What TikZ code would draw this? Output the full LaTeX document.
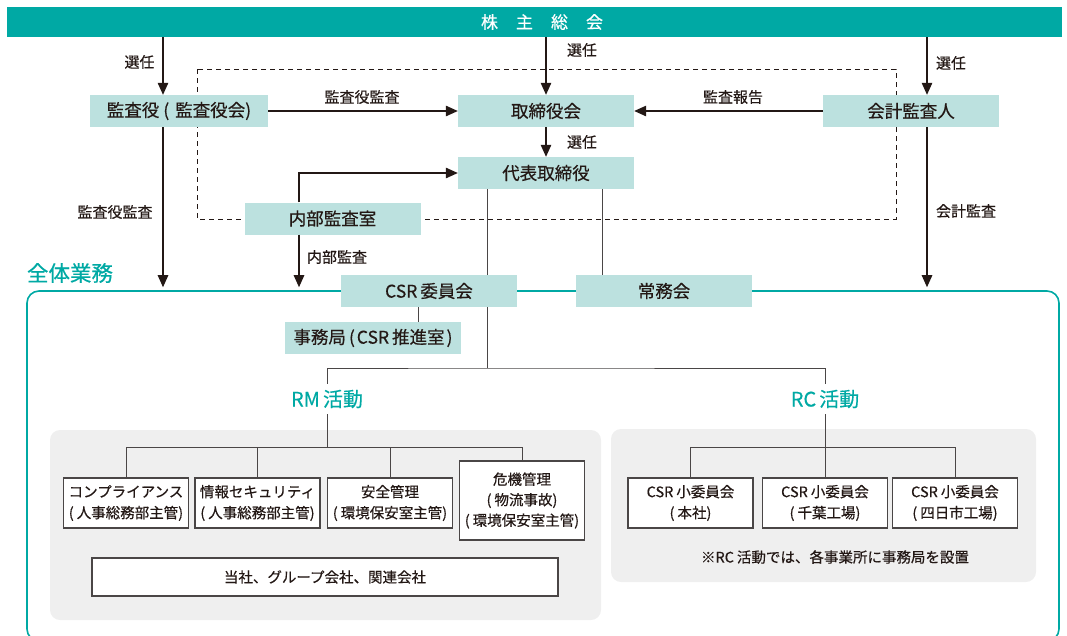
\documentclass[tikz,border=0pt]{standalone}
\usepackage{fontspec}
\setmainfont{Noto Sans CJK JP}[FakeBold=0.45,UprightFeatures={FakeBold=0.45}]
\usetikzlibrary{arrows.meta,calc}
\definecolor{brand}{HTML}{00A9A4}
\definecolor{boxfill}{HTML}{BCE1DF}
\definecolor{ink}{HTML}{231815}
\definecolor{lineg}{HTML}{4A4646}
\definecolor{panel}{HTML}{EFEFEF}
\newcommand{\lp}{(\hspace{3pt}}
\begin{document}
\begin{tikzpicture}[x=1pt,y=-1pt,
  topbox/.style={fill=boxfill,minimum width=176pt,minimum height=32pt,inner sep=0pt,text=ink,font=\fontsize{17.5}{20}\selectfont},
  lbl/.style={text=ink,inner sep=0pt,font=\fontsize{15}{17}\selectfont},
  arr/.style={draw=ink,line width=1.2pt,-{Triangle[length=12pt,width=10.5pt]}},
  conn/.style={draw=lineg,line width=1pt},
  tbox/.style={draw=lineg,fill=white,line width=1.1pt,inner sep=0pt,minimum width=125pt,minimum height=50pt,align=center,text=ink,font=\fontsize{14.5}{21}\selectfont},
  tealtxt/.style={text=brand,inner sep=0pt},
  panelbox/.style={fill=panel,rounded corners=10pt,inner sep=0pt}
]
\useasboundingbox (0,0) rectangle (1067,635);

% overall frame
\node[draw=brand,line width=1.6pt,rounded corners=12pt,minimum width=1032pt,minimum height=350pt,inner sep=0pt] (zentai) at (543,466) {};
\node[tealtxt,font=\fontsize{21.5}{24}\selectfont] (zentailabel) at (70,273) {全体業務};

% dashed audit frame
\draw[ink,line width=0.9pt,dash pattern=on 5pt off 4pt] (197,69) rectangle (896,219);

% grey panels
\node[panelbox,minimum width=551pt,minimum height=190pt] (rmpanel) at (325.5,525) {};
\node[panelbox,minimum width=425pt,minimum height=153pt] (rcpanel) at (823.5,505.5) {};

% banner
\node[fill=brand,minimum width=1055pt,minimum height=30pt,inner sep=0pt] (banner) at (534.5,22) {};
\node[text=white,font=\fontsize{17}{19}\selectfont,inner sep=0pt] (bannerlabel) at (542,22) {株\hspace{18pt}主\hspace{18pt}総\hspace{18pt}会};

% main boxes
\node[topbox,minimum width=178pt] (kansa) at (179,111) {監査役\hspace{4pt}(\hspace{6pt}監査役会)};
\node[topbox] (board) at (546,111) {取締役会};
\node[topbox] (auditor) at (911,111) {会計監査人};
\node[topbox] (ceo) at (546,173) {代表取締役};
\node[topbox] (internal) at (332.5,218.5) {内部監査室};
\node[topbox] (csr) at (429,291) {CSR\hspace{3pt}委員会};
\node[topbox] (jomu) at (664,291) {常務会};
\node[topbox] (jimu) at (373,338) {事務局\hspace{3pt}(\hspace{2pt}CSR\hspace{3pt}推進室\hspace{2pt})};

\coordinate (xk) at (163,0);
\coordinate (xa) at (927,0);
\coordinate (xn) at (299,0);
\coordinate (xd1) at (487,0);
\coordinate (xd2) at (602,0);
\coordinate (xj) at (418,0);

% arrows
\draw[arr] (banner.south -| xk) -- (kansa.north -| xk);
\draw[arr] (banner.south -| board.north) -- (board.north);
\draw[arr] (banner.south -| xa) -- (auditor.north -| xa);
\draw[arr] (kansa.east) -- (board.west);
\draw[arr] (auditor.west) -- (board.east);
\draw[arr] (board.south) -- (ceo.north);
\draw[arr] (internal.north -| xn) |- (ceo.west);
\draw[arr,shorten >=3pt] (kansa.south -| xk) -- (zentai.north -| xk);
\draw[arr,shorten >=3pt] (internal.south -| xn) -- (zentai.north -| xn);
\draw[arr,shorten >=3pt] (auditor.south -| xa) -- (zentai.north -| xa);

% plain connectors
\draw[conn] (ceo.south -| xd1) -- (csr.north -| xd1);
\draw[conn] (ceo.south -| xd2) -- (jomu.north -| xd2);
\draw[conn] (csr.south -| xj) -- (jimu.north -| xj);

% labels
\node[lbl] (l1) at (139.5,62) {選任};
\node[lbl] (l2) at (582,50) {選任};
\node[lbl] (l3) at (951,63) {選任};
\node[lbl] (l4) at (362,97) {監査役監査};
\node[lbl] (l5) at (733,97) {監査報告};
\node[lbl] (l6) at (582,142) {選任};
\node[lbl] (l7) at (115,212) {監査役監査};
\node[lbl] (l8) at (337,257) {内部監査};
\node[lbl] (l9) at (966,211) {会計監査};

% RM / RC
\node[tealtxt,font=\fontsize{20}{22}\selectfont,inner ysep=6pt] (rm) at (327,399) {RM\hspace{3pt}活動};
\node[tealtxt,font=\fontsize{20}{22}\selectfont,inner ysep=6pt] (rc) at (825,399) {RC\hspace{3pt}活動};
\coordinate (split) at (487,368);
\draw[conn] (csr.south -| split) -- (split);
\draw[conn] (rm.north) |- (split) -| (rc.north);

% RM tree
\node[tbox] (b1) at (126,503) {コンプライアンス\\\lp 人事総務部主管)};
\node[tbox] (b2) at (257.5,503) {情報セキュリティ\\\lp 人事総務部主管)};
\node[tbox] (b3) at (390,503) {安全管理\\\lp 環境保安室主管)};
\node[tbox,minimum height=79pt,font=\fontsize{14.5}{20.5}\selectfont] (b4) at (522,500.5) {危機管理\\\lp 物流事故)\\\lp 環境保安室主管)};
\node[tbox,minimum width=466pt,minimum height=38pt] (b5) at (325,577) {当社、グループ会社、関連会社};
\coordinate (rmbar) at (326,447);
\draw[conn] (rm.south) -- (rm.south |- rmbar);
\draw[conn] (b1.north) |- (b4.north |- rmbar) -- (b4.north);
\draw[conn] (b2.north) -- (b2.north |- rmbar);
\draw[conn] (b3.north) -- (b3.north |- rmbar);

% RC tree
\node[tbox] (c1) at (690.5,503) {CSR\hspace{3pt}小委員会\\\lp 本社)};
\node[tbox] (c2) at (825,503) {CSR\hspace{3pt}小委員会\\\lp 千葉工場)};
\node[tbox] (c3) at (955,503) {CSR\hspace{3pt}小委員会\\\lp 四日市工場)};
\coordinate (rcbar) at (825,447);
\draw[conn] (rc.south) -- (c2.north);
\draw[conn] (c1.north) |- (c3.north |- rcbar) -- (c3.north);
\node[lbl,font=\fontsize{14.5}{17}\selectfont] (note) at (835,557) {※RC\hspace{3pt}活動では、各事業所に事務局を設置};
\end{tikzpicture}
\end{document}
